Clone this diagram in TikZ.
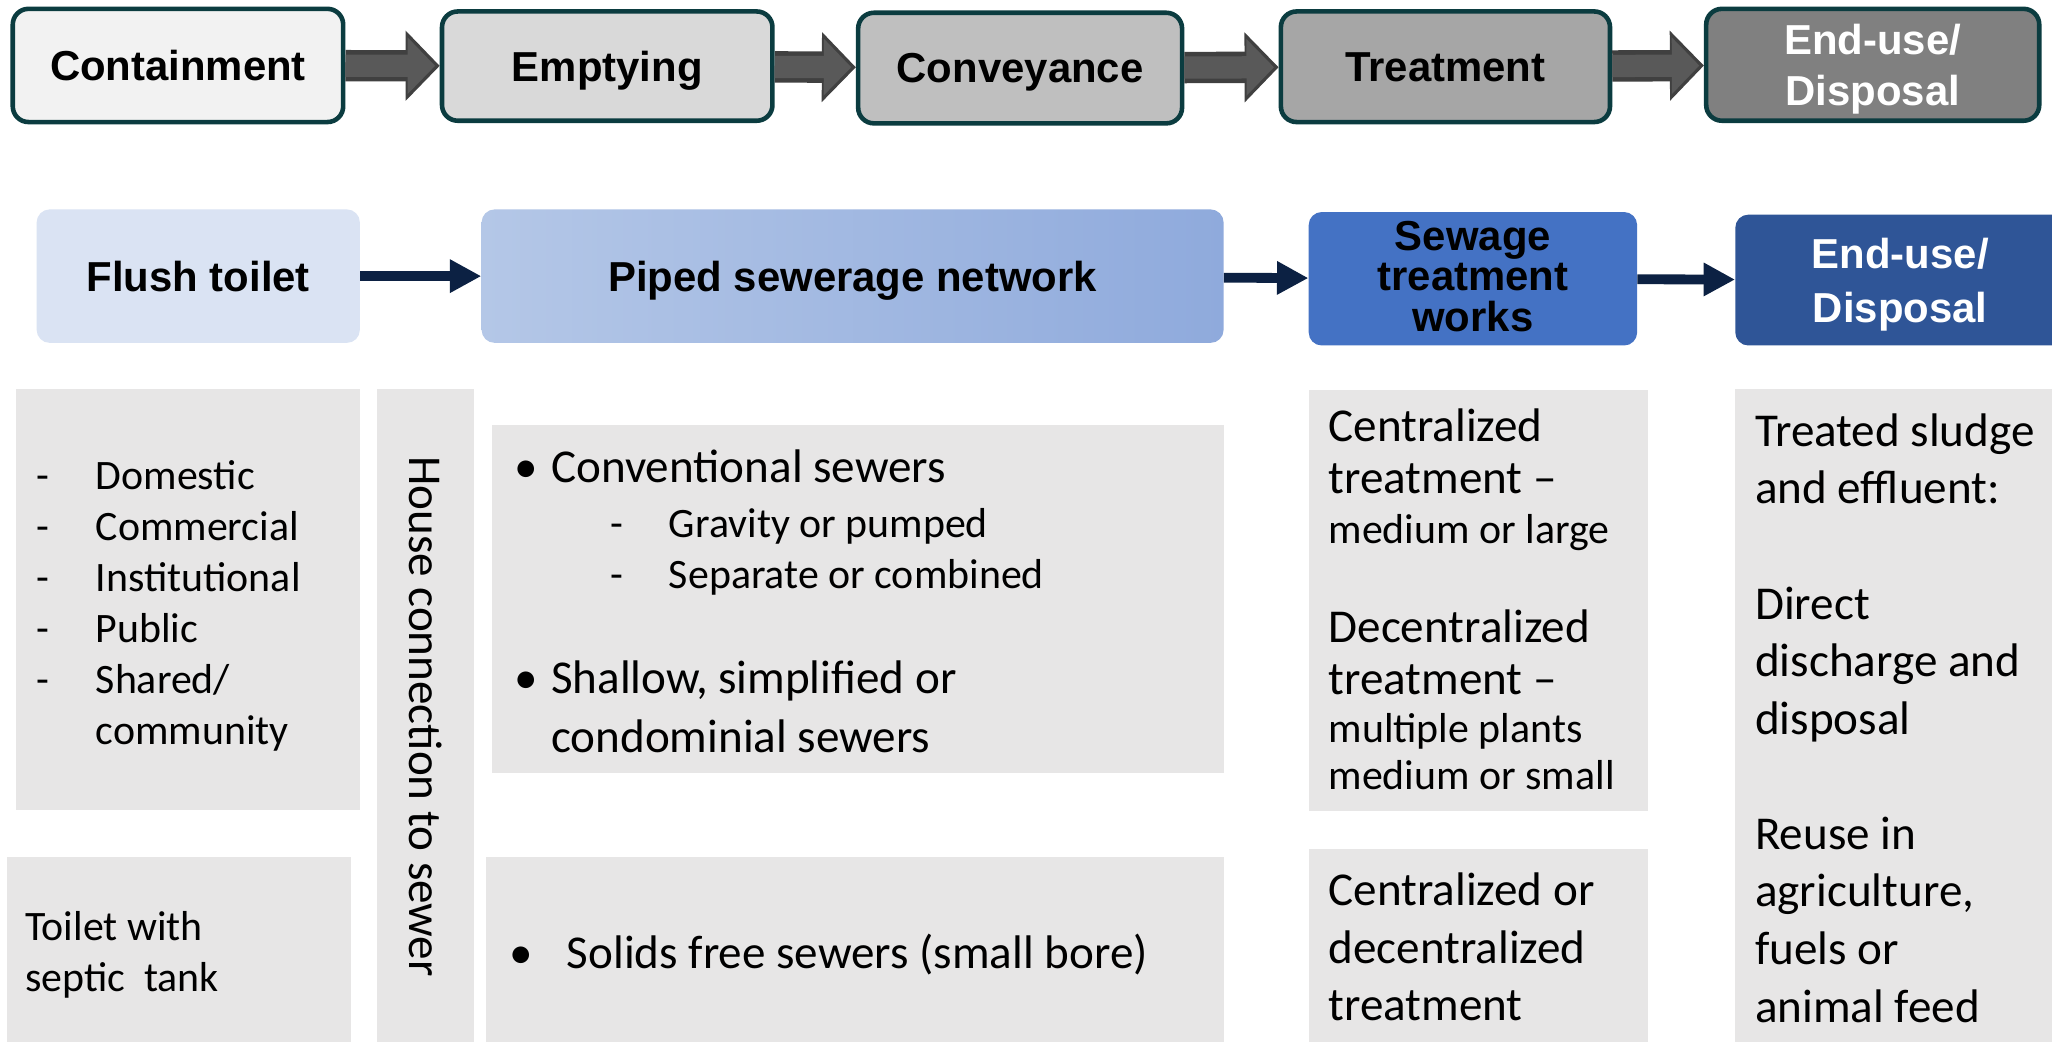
\documentclass[tikz,border=0pt]{standalone}
\usepackage{fontspec}
\setmainfont{Carlito}
\newfontfamily\headfont{Liberation Sans}
\usetikzlibrary{arrows.meta}

\definecolor{StageEdge}{HTML}{0B3C40}
\definecolor{StageA}{HTML}{F2F2F2}
\definecolor{StageB}{HTML}{D9D9D9}
\definecolor{StageC}{HTML}{BFBFBF}
\definecolor{StageD}{HTML}{A6A6A6}
\definecolor{StageE}{HTML}{808080}
\definecolor{BlockFill}{HTML}{595959}
\definecolor{BlockEdge}{HTML}{404040}
\definecolor{Navy}{HTML}{0C2143}
\definecolor{PaleBlue}{HTML}{DAE3F3}
\definecolor{PipeLeft}{HTML}{B4C7E7}
\definecolor{PipeRight}{HTML}{8FAADC}
\definecolor{MidBlue}{HTML}{4472C4}
\definecolor{DeepBlue}{HTML}{2F5597}
\definecolor{PanelGray}{HTML}{E7E6E6}

\newcommand{\dashitem}{\makebox[45pt][l]{-}}
\newcommand{\bulitem}[1][28pt]{\makebox[#1][l]{•}}

\begin{document}
\begin{tikzpicture}[
  x=1pt, y=-1pt,
  stage/.style={rounded corners=12pt, draw=StageEdge, line width=3.5pt,
                font=\headfont\bfseries\fontsize{32}{39}\selectfont,
                align=center, inner sep=0pt, text depth=0pt},
  flow/.style={rounded corners=10pt, font=\headfont\bfseries\fontsize{32}{39}\selectfont,
               align=center, inner sep=0pt, text depth=0pt, minimum height=102pt},
  panel/.style={fill=PanelGray, inner sep=0pt},
  txt/.style={anchor=base west, inner sep=0pt, font=\fontsize{36}{44}\selectfont},
  blockarr/.style={draw=BlockEdge, line width=24pt, -{Triangle[length=26pt,width=52pt]},
                   postaction={draw=BlockFill, line width=17pt,
                               -{Triangle[length=21pt,width=42pt]}, shorten >=3.5pt}},
  navarr/.style={draw=Navy, line width=7.5pt, -{Triangle[length=24pt,width=24pt]}},
]
  \useasboundingbox (0,0) rectangle (1568,796);
  \clip (0,0) rectangle (1568,796);
  \fill[white] (0,0) rectangle (1568,796);

  % service chain
  \node[stage, fill=StageA, minimum width=252.5pt, minimum height=86.5pt] (contain) at (136,50) {Containment};
  \node[stage, fill=StageB, minimum width=252.5pt, minimum height=83.5pt] (empty) at (464,50.5) {Emptying};
  \node[stage, fill=StageC, minimum width=247.5pt, minimum height=84.5pt] (convey) at (779.5,52) {Conveyance};
  \node[stage, fill=StageD, minimum width=251.5pt, minimum height=84.5pt] (treat) at (1104.5,51) {Treatment};
  \node[stage, fill=StageE, text=white, minimum width=254.5pt, minimum height=85.5pt] (enduse) at (1431,49.5) {End-use/\\Disposal};

  \draw[blockarr] (contain) -- (empty);
  \draw[blockarr] (empty) -- (convey);
  \draw[blockarr] (convey) -- (treat);
  \draw[blockarr] (treat) -- (enduse);

  % sewered system
  \node[flow, fill=PaleBlue, minimum width=247pt] (flush) at (151.5,211) {Flush toilet};
  \node[flow, left color=PipeLeft, right color=PipeRight, minimum width=567pt] (piped) at (651.5,211) {Piped sewerage network};
  \node[flow, fill=MidBlue, minimum width=251pt, text depth=4pt,
        font=\headfont\bfseries\fontsize{32}{31}\selectfont] (stw) at (1125.5,213) {Sewage\\treatment\\works};
  \node[flow, fill=DeepBlue, text=white, minimum width=252pt, minimum height=100pt,
        font=\headfont\bfseries\fontsize{32}{41}\selectfont] (disp) at (1452,214) {End-use/\\Disposal};

  \draw[navarr] (flush) -- (piped);
  \draw[navarr] (piped) -- (stw);
  \draw[navarr] (stw) -- (disp);

  % detail panels
  \node[panel, minimum width=263pt, minimum height=322pt] (users) at (143.5,458) {};
  \node[panel, rotate=-90, minimum width=501pt, minimum height=74pt,
        font=\fontsize{36}{44}\selectfont] (house) at (325,547.5) {House connection to sewer};
  \node[panel, minimum width=559pt, minimum height=266pt] (sewtypes) at (655.5,458) {};
  \node[panel, minimum width=263pt, minimum height=155pt] (septic) at (136.5,732.5) {};
  \node[panel, minimum width=564pt, minimum height=155pt] (solids) at (653,732.5) {};
  \node[panel, minimum width=259pt, minimum height=322pt] (trtopts) at (1129.5,459) {};
  \node[panel, minimum width=259pt, minimum height=161pt] (trtmix) at (1129.5,729.5) {};
  \node[panel, minimum width=264pt, minimum height=513pt] (reuse) at (1458,553.5) {};

  \node[txt, font=\fontsize{32}{39}\selectfont] (userstxt) at (28,374) {\parbox[t]{400pt}{%
    \dashitem Domestic\\ \dashitem Commercial\\ \dashitem Institutional\\
    \dashitem Public\\ \dashitem Shared/\\ \hspace*{45pt}community}};

  \node[txt] (sewtxt) at (393,369) {\parbox[t]{520pt}{%
    \bulitem Conventional sewers\par
    \fontsize{32}{42}\selectfont\hspace*{73pt}\dashitem Gravity or pumped\\[-3pt]
    \hspace*{73pt}\dashitem Separate or combined\par
    \vspace{35pt}\fontsize{36}{45}\selectfont\bulitem Shallow, simplified or\\
    \hspace*{28pt}condominial sewers}};

  \node[txt, font=\fontsize{32}{39}\selectfont] (septictxt) at (19,719) {\parbox[t]{240pt}{Toilet with\\septic\ \ tank}};

  \node[txt] (solidstxt) at (389,740) {\bulitem[44pt]Solids free sewers (small bore)};

  \node[txt, font=\fontsize{36}{40}\selectfont] (trttxt) at (1015,337) {\parbox[t]{240pt}{%
    Centralized\\treatment –\par
    \fontsize{32}{38}\selectfont medium or large\par
    \vspace{36pt}\fontsize{36}{40}\selectfont Decentralized\\treatment –\par
    \fontsize{32}{36}\selectfont multiple plants\\medium or small}};

  \node[txt] (mixtxt) at (1015,692) {\parbox[t]{240pt}{Centralized or\\decentralized\\treatment}};

  \node[txt] (reusetxt) at (1341,341) {\parbox[t]{240pt}{%
    Treated sludge\\and effluent:\\[44pt]Direct\\discharge and\\disposal\\[44pt]%
    Reuse in\\agriculture,\\fuels or\\animal feed}};
\end{tikzpicture}
\end{document}
